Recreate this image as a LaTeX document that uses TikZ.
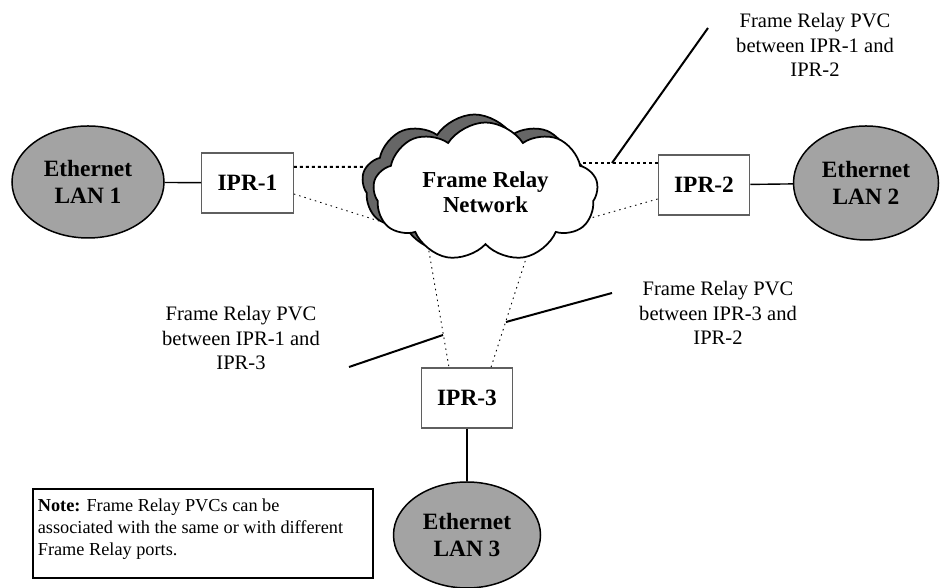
\documentclass[tikz,border=0pt]{standalone}
\usepackage{fontspec}
\setmainfont{Liberation Serif}
\usetikzlibrary{shapes.symbols,shapes.geometric}

\definecolor{langray}{RGB}{163,163,163}
\definecolor{shadowgray}{RGB}{102,102,102}
\definecolor{boxgray}{RGB}{95,95,95}

\tikzset{
  lanshape/.style={ellipse, draw=black, line width=0.03cm, fill=langray,
    inner sep=0pt, align=center, font=\fontsize{13.3}{15.5}\selectfont\bfseries},
  iprbox/.style={rectangle, draw=boxgray, line width=0.025cm, fill=white,
    minimum width=1.83cm, minimum height=1.2cm, inner sep=0pt,
    font=\fontsize{13.3}{15.5}\selectfont\bfseries},
  frcloud/.style={cloud, cloud puffs=9, cloud puff arc=115, aspect=1.62, draw=black,
    line width=0.035cm, fill=white, minimum width=4.5cm, minimum height=2.78cm,
    inner sep=0pt, align=center, font=\fontsize{13}{14.5}\selectfont\bfseries},
  pvclabel/.style={align=center, inner sep=0pt, font=\fontsize{11.7}{14}\selectfont},
  lanlink/.style={line width=0.028cm},
  pvcthick/.style={line width=0.04cm, dash pattern=on 0.06cm off 0.06cm},
  pvcthin/.style={line width=0.018cm, dash pattern=on 0.03cm off 0.08cm},
  pvcleader/.style={line width=0.04cm}
}

\begin{document}
\begin{tikzpicture}
                \useasboundingbox (0,0) rectangle (18.800000,11.760000);

                % Marking LAN 1, LAN 2 and LAN 3 by ellipses
                \node [lanshape, minimum width=3.04cm, minimum height=2.24cm] (lan1) at (1.760000,8.120000) {Ethernet\\LAN 1};%
                \node [lanshape, minimum width=2.90cm, minimum height=2.28cm] (lan2) at (17.320000,8.100000) {Ethernet\\LAN 2};%
                \node [lanshape, minimum width=2.94cm, minimum height=2.12cm] (lan3) at (9.340000,1.060000) {Ethernet\\LAN 3};%

                % Marking routers IPR-1, IPR-2, IPR-3 by boxes
                \node [iprbox] (ipr1) at (4.950000,8.100000) {IPR-1};%
                \node [iprbox] (ipr2) at (14.080000,8.060000) {IPR-2};%
                \node [iprbox] (ipr3) at (9.340000,3.800000) {IPR-3};%

                % Drawing line LAN IPR
                \draw [lanlink] (lan1) -- (ipr1);%
                \draw [lanlink] (ipr2) -- (lan2);%
                \draw [lanlink, line width=0.04cm] (ipr3) -- (lan3);%

                % Points hidden under the cloud
                \coordinate (cl1) at (8.000000,8.420000);%
                \coordinate (cl2) at (8.400000,7.080000);%
                \coordinate (cr1) at (11.200000,8.500000);%
                \coordinate (cr2) at (10.900000,7.140000);%
                \coordinate (cb1) at (8.540000,6.960000);%
                \coordinate (cb2) at (10.640000,6.960000);%

                % Drawing PVCs IPR cloud
                \draw [pvcthick] ([yshift=0.32cm]ipr1.east) -- (cl1);%
                \draw [pvcthin] ([yshift=-0.22cm]ipr1.east) -- (cl2);%
                \draw [pvcthick] ([yshift=0.44cm]ipr2.west) -- (cr1);%
                \draw [pvcthin] ([yshift=-0.28cm]ipr2.west) -- (cr2);%
                \draw [pvcthin] (cb1) -- ([xshift=-0.36cm]ipr3.north);%
                \draw [pvcthin] (cb2) -- ([xshift=0.48cm]ipr3.north);%

                % Marking the Frame Relay network by cloud
                \node [frcloud, fill=shadowgray] (shadow) at (9.490000,8.080000) {};%
                \node [frcloud] (frnet) at (9.710000,7.920000) {Frame Relay\\Network};%

                % Marking PVC labels
                \node [pvclabel] (pvc12) at (16.300000,10.860000) {Frame Relay PVC\\between IPR-1 and\\IPR-2};%
                \node [pvclabel] (pvc13) at (4.820000,5.000000) {Frame Relay PVC\\between IPR-1 and\\IPR-3};%
                \node [pvclabel] (pvc32) at (14.360000,5.500000) {Frame Relay PVC\\between IPR-3 and\\IPR-2};%

                % Drawing leader lines
                \coordinate (l1) at (14.160000,11.200000);%
                \coordinate (t1) at (12.240000,8.500000);%
                \coordinate (l2) at (6.980000,4.420000);%
                \coordinate (t2) at (8.860000,5.060000);%
                \coordinate (l3) at (12.240000,5.900000);%
                \coordinate (t3) at (10.120000,5.320000);%
                \draw [pvcleader] (l1) -- (t1);%
                \draw [pvcleader] (l2) -- (t2);%
                \draw [pvcleader] (l3) -- (t3);%

                % Marking the note
                \node [draw=black, line width=0.035cm, anchor=north west, inner xsep=0.1cm, inner ysep=0.2cm,
                  font=\fontsize{10.4}{12.5}\selectfont] (note) at (0.640000,2.000000)
                  {\parbox[t][1.38cm][t]{6.6cm}{\textbf{Note:} Frame Relay PVCs can be\\associated with the same or with different\\Frame Relay ports.}};%
\end{tikzpicture}
\end{document}
